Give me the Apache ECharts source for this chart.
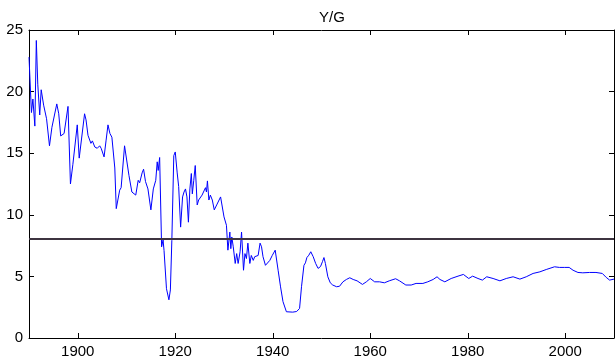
<!DOCTYPE html>
<html>
<head>
<meta charset="utf-8">
<title>Y/G</title>
<script src="https://cdn.jsdelivr.net/npm/echarts@6/dist/echarts.min.js"></script>
<style>
  html, body { margin: 0; padding: 0; background: #ffffff; }
  #chart { width: 616px; height: 360px; }
</style>
</head>
<body>
<div id="chart"></div>
<script>
// Ratio Y/G over time (year, ratio)
const years = [
  1890.0, 1890.5, 1890.8, 1891.2, 1891.5, 1891.8, 1892.2, 1892.5, 1892.7, 1893.0,
  1893.3, 1893.6, 1894.2, 1894.7, 1895.0, 1895.7, 1896.1, 1896.5, 1897.2, 1897.5,
  1898.0, 1898.5, 1899.0, 1899.3, 1899.9, 1900.3, 1900.6, 1901.4, 1901.7, 1902.1,
  1902.4, 1902.7, 1903.0, 1903.5, 1904.0, 1904.5, 1904.8, 1905.4, 1905.8, 1906.2,
  1906.6, 1907.0, 1907.6, 1907.9, 1908.2, 1908.6, 1908.9, 1909.6, 1909.9, 1910.5,
  1911.1, 1911.4, 1911.9, 1912.4, 1912.7, 1913.2, 1913.5, 1913.9, 1914.4, 1915.0,
  1915.5, 1916.0, 1916.3, 1916.5, 1916.8, 1917.2, 1917.5, 1917.7, 1918.2, 1918.7,
  1919.0, 1919.3, 1919.7, 1920.0, 1920.4, 1920.7, 1921.1, 1921.5, 1921.8, 1922.1,
  1922.4, 1922.7, 1923.0, 1923.3, 1923.5, 1923.8, 1924.1, 1924.5, 1924.8, 1925.2,
  1925.5, 1925.9, 1926.2, 1926.4, 1926.6, 1926.9, 1927.2, 1927.6, 1928.0, 1928.5,
  1928.9, 1929.3, 1929.7, 1930.0, 1930.5, 1930.8, 1931.2, 1931.4, 1931.6, 1931.9,
  1932.3, 1932.6, 1932.9, 1933.3, 1933.6, 1934.0, 1934.3, 1934.6, 1934.9, 1935.3,
  1935.6, 1936.0, 1936.3, 1936.7, 1937.0, 1937.4, 1937.7, 1938.0, 1938.5, 1938.9,
  1939.4, 1939.9, 1940.5, 1941.1, 1941.6, 1942.1, 1942.8, 1944.1, 1944.9, 1945.5,
  1945.9, 1946.4, 1946.7, 1947.0, 1947.4, 1947.8, 1948.3, 1948.8, 1949.3, 1949.8,
  1950.2, 1950.5, 1950.8, 1951.3, 1951.8, 1952.3, 1953.1, 1953.7, 1954.4, 1955.1,
  1955.8, 1956.5, 1957.3, 1958.4, 1959.2, 1960.0, 1960.9, 1961.9, 1962.9, 1963.9,
  1965.2, 1966.0, 1967.3, 1968.4, 1969.4, 1970.8, 1971.8, 1972.9, 1973.7, 1974.3,
  1975.3, 1976.6, 1978.0, 1979.1, 1980.2, 1981.0, 1982.1, 1983.0, 1983.9, 1985.2,
  1986.6, 1987.9, 1989.3, 1990.7, 1992.0, 1993.4, 1994.8, 1996.1, 1997.8, 1998.8,
  1999.8, 2000.8, 2001.6, 2002.6, 2003.6, 2005.0, 2006.3, 2007.6, 2008.4, 2009.1,
  2010.0
];

const ratio = [
  22.8, 18.3, 19.4, 17.2, 24.15, 20.6, 18.1, 20.15, 20.0, 18.9,
  18.8, 17.8, 15.6, 17.1, 17.0, 19.0, 18.2, 16.4, 16.6, 16.7,
  18.8, 12.5, 14.1, 14.15, 17.3, 14.6, 14.5, 18.2, 17.7, 16.45,
  16.6, 15.8, 16.0, 15.5, 15.4, 15.6, 15.4, 14.7, 16.0, 17.3,
  16.6, 16.3, 13.8, 10.5, 10.5, 12.0, 12.2, 15.6, 15.5, 13.2,
  11.85, 11.9, 11.6, 12.8, 12.6, 13.4, 13.7, 12.7, 12.1, 10.4,
  12.1, 12.8, 14.3, 13.6, 14.65, 7.4, 7.95, 7.1, 4.0, 3.1,
  3.9, 7.9, 14.8, 15.1, 13.4, 12.3, 9.0, 11.45, 11.85, 12.1,
  11.45, 9.4, 12.1, 13.35, 11.7, 12.8, 14.0, 10.8, 11.2, 11.3,
  11.6, 11.7, 12.2, 11.85, 12.75, 11.2, 11.6, 11.2, 10.4, 10.8,
  10.65, 11.45, 11.3, 9.83, 9.15, 7.13, 8.6, 7.25, 8.2, 7.4,
  6.05, 6.85, 6.05, 7.0, 8.6, 5.5, 6.85, 6.45, 7.7, 6.05,
  6.7, 6.3, 6.6, 6.45, 6.7, 7.7, 7.4, 6.6, 5.9, 5.9,
  6.3, 6.7, 7.13, 5.5, 4.15, 2.95, 2.13, 2.1, 2.15, 2.4,
  4.16, 5.9, 6.1, 6.53, 6.72, 7.0, 6.6, 6.05, 5.65, 5.8,
  6.2, 6.53, 6.05, 4.97, 4.48, 4.3, 4.16, 4.2, 4.56, 4.75,
  4.89, 4.75, 4.64, 4.35, 4.56, 4.83, 4.56, 4.56, 4.48, 4.64,
  4.81, 4.64, 4.3, 4.3, 4.43, 4.43, 4.56, 4.75, 4.97, 4.75,
  4.56, 4.83, 5.02, 5.16, 4.83, 5.02, 4.83, 4.7, 4.97, 4.83,
  4.64, 4.83, 4.97, 4.78, 4.97, 5.24, 5.37, 5.56, 5.78, 5.73,
  5.73, 5.73, 5.5, 5.32, 5.29, 5.32, 5.32, 5.24, 4.92, 4.7,
  4.78
];

// Constant reference level drawn across the whole period
const referenceLevel = 8.05;

// Axis tick positions
const yearTicks = [1900, 1920, 1940, 1960, 1980, 2000];
const ratioTicks = [0, 5, 10, 15, 20, 25];

const font = 'Liberation Sans, Arial, Helvetica, sans-serif';

const points = years.map((y, i) => [y, ratio[i]]);

const xCommon = {
  type: 'value',
  min: 1890,
  max: 2010,
  splitLine: { show: false },
  axisLine: { show: true, onZero: false, lineStyle: { color: '#000', width: 1 } },
  axisTick: { show: true, inside: true, length: 5, customValues: yearTicks,
              lineStyle: { color: '#000', width: 1 } }
};

const yCommon = {
  type: 'value',
  min: 0,
  max: 25,
  interval: 5,
  splitLine: { show: false },
  axisLine: { show: true, onZero: false, lineStyle: { color: '#000', width: 1 } },
  axisTick: { show: true, inside: true, length: 5, lineStyle: { color: '#000', width: 1 } }
};

const chart = echarts.init(document.getElementById('chart'), null, { renderer: 'canvas' });

chart.setOption({
  animation: false,
  backgroundColor: '#ffffff',
  title: {
    text: 'Y/G',
    left: 327,
    top: 5,
    textAlign: 'center',
    textStyle: { fontFamily: font, fontSize: 15, fontWeight: 'normal', color: '#000' }
  },
  grid: { left: 29, right: 2, top: 30, bottom: 22, containLabel: false },
  xAxis: [
    Object.assign({}, xCommon, {
      position: 'bottom',
      axisLabel: {
        show: true, margin: 6, customValues: yearTicks,
        fontFamily: font, fontSize: 15, color: '#000',
        formatter: v => String(Math.round(v))
      }
    }),
    Object.assign({}, xCommon, {
      position: 'top',
      axisLabel: { show: false }
    })
  ],
  yAxis: [
    Object.assign({}, yCommon, {
      position: 'left',
      axisLabel: {
        show: true, margin: 6,
        fontFamily: font, fontSize: 15, color: '#000',
        formatter: v => (ratioTicks.includes(v) ? String(v) : '')
      }
    }),
    Object.assign({}, yCommon, {
      position: 'right',
      axisLabel: { show: false }
    })
  ],
  series: [
    {
      name: 'Y/G',
      type: 'line',
      xAxisIndex: 0,
      yAxisIndex: 0,
      data: points,
      showSymbol: false,
      symbol: 'none',
      lineStyle: { color: '#0000ff', width: 1 },
      silent: true,
      markLine: {
        silent: true,
        symbol: 'none',
        label: { show: false },
        lineStyle: { color: '#3d3440', width: 2, type: 'solid' },
        data: [{ yAxis: referenceLevel }]
      }
    }
  ]
});
</script>
</body>
</html>
